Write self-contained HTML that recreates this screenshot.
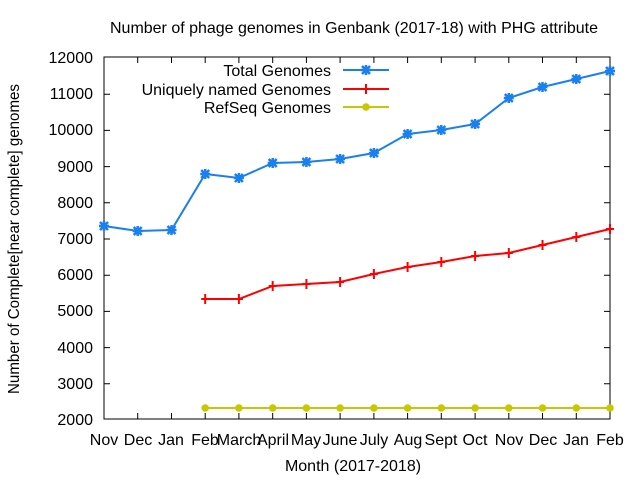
<!DOCTYPE html>
<html><head><meta charset="utf-8"><style>body{margin:0;background:#fff}svg{display:block}text{font-family:"Liberation Sans",sans-serif;font-size:16px;fill:#000}</style></head><body>
<svg width="640" height="480" viewBox="0 0 640 480" xmlns="http://www.w3.org/2000/svg">
<defs>
<g id="star"><path d="M-4,-4L4,4M-4,4L4,-4M-5,0H5M0,-5V5" stroke-width="2.5"/></g>
<g id="plus"><path d="M-4,0H4M0,-5V5" stroke-width="2"/></g>
</defs>
<text x="110" y="33" textLength="488" lengthAdjust="spacingAndGlyphs">Number of phage genomes in Genbank (2017-18) with PHG attribute</text>
<g text-anchor="end">
<text x="93" y="425">2000</text><text x="93" y="389">3000</text><text x="93" y="353">4000</text><text x="93" y="316">5000</text><text x="93" y="280">6000</text><text x="93" y="244">7000</text><text x="93" y="208">8000</text><text x="93" y="172">9000</text><text x="93" y="135">10000</text><text x="93" y="99">11000</text><text x="93" y="63">12000</text>
</g>
<g stroke="#000" stroke-width="1">
<path d="M104,383.8h6M104,347.6h6M104,311.4h6M104,275.2h6M104,239h6M104,202.8h6M104,166.6h6M104,130.4h6M104,94.2h6M610,383.8h-6M610,347.6h-6M610,311.4h-6M610,275.2h-6M610,239h-6M610,202.8h-6M610,166.6h-6M610,130.4h-6M610,94.2h-6"/>
<path d="M137.7,419v-6M171.5,419v-6M205.2,419v-6M238.9,419v-6M272.7,419v-6M306.4,419v-6M340.1,419v-6M373.9,419v-6M407.6,419v-6M441.3,419v-6M475.1,419v-6M508.8,419v-6M542.5,419v-6M576.3,419v-6M137.7,57v6M171.5,57v6M205.2,57v6M238.9,57v6M272.7,57v6M306.4,57v6M340.1,57v6M373.9,57v6M407.6,57v6M441.3,57v6M475.1,57v6M508.8,57v6M542.5,57v6M576.3,57v6"/>
<rect x="104" y="57" width="506" height="362" fill="none"/>
</g>
<g text-anchor="middle">
<text x="104" y="445">Nov</text><text x="138" y="445">Dec</text><text x="171" y="445">Jan</text><text x="205" y="445">Feb</text><text x="239" y="445">March</text><text x="273" y="445">April</text><text x="306" y="445">May</text><text x="340" y="445">June</text><text x="374" y="445">July</text><text x="408" y="445">Aug</text><text x="441" y="445">Sept</text><text x="475" y="445">Oct</text><text x="509" y="445">Nov</text><text x="543" y="445">Dec</text><text x="576" y="445">Jan</text><text x="610" y="445">Feb</text>
<text x="353" y="471">Month (2017-2018)</text>
<text transform="translate(19,239) rotate(-90)" textLength="310" lengthAdjust="spacingAndGlyphs">Number of Complete[near complete] genomes</text>
</g>
<g text-anchor="end"><text x="331" y="76">Total Genomes</text><text x="331" y="95">Uniquely named Genomes</text><text x="331" y="113">RefSeq Genomes</text></g>
<g stroke="#1a80f0" fill="none" stroke-width="2">
<path d="M343,70H389"/><use href="#star" x="366" y="70"/>
<polyline points="104,226 137.7,231 171.5,230 205.2,174 238.9,178 272.7,163 306.4,162 340.1,159 373.9,153 407.6,134 441.3,130 475.1,124 508.8,98 542.5,87 576.3,79 610,71"/>
<use href="#star" x="104" y="226"/><use href="#star" x="137.7" y="231"/><use href="#star" x="171.5" y="230"/><use href="#star" x="205.2" y="174"/><use href="#star" x="238.9" y="178"/><use href="#star" x="272.7" y="163"/><use href="#star" x="306.4" y="162"/><use href="#star" x="340.1" y="159"/><use href="#star" x="373.9" y="153"/><use href="#star" x="407.6" y="134"/><use href="#star" x="441.3" y="130"/><use href="#star" x="475.1" y="124"/><use href="#star" x="508.8" y="98"/><use href="#star" x="542.5" y="87"/><use href="#star" x="576.3" y="79"/><use href="#star" x="610" y="71"/>
</g>
<g stroke="#ff0000" fill="none" stroke-width="2">
<path d="M343,89H389"/><use href="#plus" x="366" y="89"/>
<polyline points="205.2,299 238.9,299 272.7,286 306.4,284 340.1,282 373.9,274 407.6,267 441.3,262 475.1,256 508.8,253 542.5,245 576.3,237 610,229"/>
<use href="#plus" x="205.2" y="299"/><use href="#plus" x="238.9" y="299"/><use href="#plus" x="272.7" y="286"/><use href="#plus" x="306.4" y="284"/><use href="#plus" x="340.1" y="282"/><use href="#plus" x="373.9" y="274"/><use href="#plus" x="407.6" y="267"/><use href="#plus" x="441.3" y="262"/><use href="#plus" x="475.1" y="256"/><use href="#plus" x="508.8" y="253"/><use href="#plus" x="542.5" y="245"/><use href="#plus" x="576.3" y="237"/><use href="#plus" x="610" y="229"/>
</g>
<g stroke="#c8c800" fill="#c8c800" stroke-width="2">
<path d="M343,107H389M205.2,408H610"/>
<circle cx="366" cy="107" r="2.8"/>
<circle cx="205.2" cy="408" r="2.8"/><circle cx="238.9" cy="408" r="2.8"/><circle cx="272.7" cy="408" r="2.8"/><circle cx="306.4" cy="408" r="2.8"/><circle cx="340.1" cy="408" r="2.8"/><circle cx="373.9" cy="408" r="2.8"/><circle cx="407.6" cy="408" r="2.8"/><circle cx="441.3" cy="408" r="2.8"/><circle cx="475.1" cy="408" r="2.8"/><circle cx="508.8" cy="408" r="2.8"/><circle cx="542.5" cy="408" r="2.8"/><circle cx="576.3" cy="408" r="2.8"/><circle cx="610" cy="408" r="2.8"/>
</g>
</svg>
</body></html>
